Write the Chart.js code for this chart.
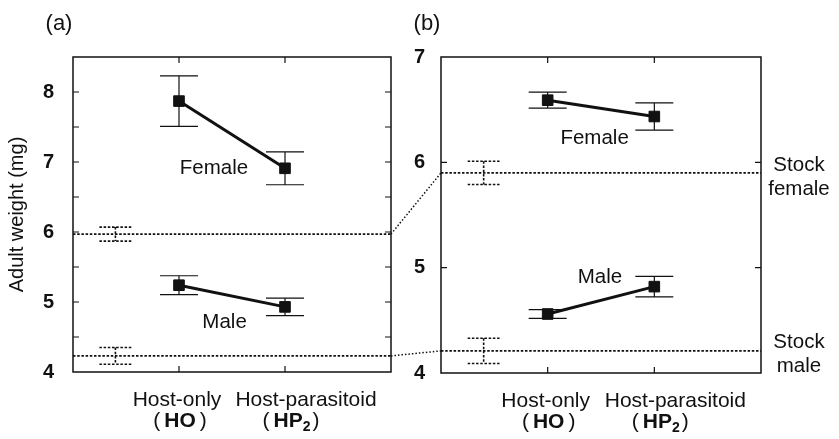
<!DOCTYPE html>
<html>
<head>
<meta charset="utf-8">
<script src="https://cdn.jsdelivr.net/npm/chart.js@4.4.1/dist/chart.umd.min.js"></script>
<style>
  body { margin: 0; background: #fff; }
  #wrap { position: relative; width: 839px; height: 439px; }
  canvas { position: absolute; top: 0; }
</style>
</head>
<body>
<div id="wrap">
  <canvas id="panel-a" width="405" height="439" style="left:0"></canvas>
  <canvas id="panel-b" width="434" height="439" style="left:405px"></canvas>
  <canvas id="links" width="839" height="439" style="left:0;pointer-events:none"></canvas>
</div>
<script>
const groupNames = ["Host-only", "Host-parasitoid"];
const groupCodes = ["HO", "HP"];
const groupX = [1, 2];
const stockX = 0.4;

// panel (a)
const femaleA = [7.87, 6.91];
const femaleAErr = [0.36, 0.235];
const maleA = [5.24, 4.93];
const maleAErr = [0.135, 0.125];
const stockA = [5.97, 4.23];      // stock female, stock male
const stockAErr = [0.10, 0.12];

// panel (b)
const femaleB = [6.59, 6.435];
const femaleBErr = [0.076, 0.13];
const maleB = [4.56, 4.82];
const maleBErr = [0.042, 0.097];
const stockB = [5.90, 4.21];
const stockBErr = [0.11, 0.12];

const INK = "#111";
Chart.defaults.font.family = '"Liberation Sans", Arial, sans-serif';
Chart.defaults.color = INK;

function drawParts(ctx, parts, cx, y) {
  let total = 0;
  parts.forEach(p => { ctx.font = p.font; p.w = ctx.measureText(p.t).width; total += p.w + (p.gap || 0); });
  let x = cx - total / 2;
  ctx.textAlign = "left";
  parts.forEach(p => {
    ctx.font = p.font;
    ctx.fillText(p.t, x, y + (p.dy || 0));
    x += p.w + (p.gap || 0);
  });
}

const panelPlugin = {
  id: "panelText",
  beforeDatasetsDraw(chart) {
    const { ctx, scales: { x, y } } = chart;
    ctx.save();
    ctx.strokeStyle = INK;
    chart.data.datasets.forEach(ds => {
      if (ds.errors) {
        ctx.lineWidth = 1.2;
        ctx.setLineDash([]);
        ds.data.forEach((p, i) => {
          const px = x.getPixelForValue(p.x);
          const t = y.getPixelForValue(p.y + ds.errors[i]);
          const b = y.getPixelForValue(p.y - ds.errors[i]);
          ctx.beginPath();
          ctx.moveTo(px, t); ctx.lineTo(px, b);
          ctx.moveTo(px - 19, t); ctx.lineTo(px + 19, t);
          ctx.moveTo(px - 19, b); ctx.lineTo(px + 19, b);
          ctx.stroke();
        });
      }
      if (ds.stockErr !== undefined) {
        const v = ds.data[0].y;
        const px = x.getPixelForValue(stockX);
        const t = y.getPixelForValue(v + ds.stockErr);
        const b = y.getPixelForValue(v - ds.stockErr);
        ctx.lineWidth = 1.6;
        ctx.setLineDash([2.5, 1.7]);
        ctx.beginPath();
        ctx.moveTo(px, t); ctx.lineTo(px, b);
        ctx.moveTo(px - 16, t); ctx.lineTo(px + 16, t);
        ctx.moveTo(px - 16, b); ctx.lineTo(px + 16, b);
        ctx.stroke();
      }
    });
    ctx.restore();
  },
  afterDraw(chart, args, opts) {
    const { ctx, chartArea: a, scales: { x, y } } = chart;
    ctx.save();
    ctx.strokeStyle = INK;
    ctx.fillStyle = INK;
    ctx.setLineDash([]);
    ctx.lineWidth = 1.5;
    ctx.strokeRect(a.left, a.top, a.right - a.left, a.bottom - a.top);
    ctx.lineWidth = 1.2;
    ctx.beginPath();
    y.ticks.forEach(t => {
      if (t.value <= y.min || t.value >= y.max) return;
      const py = y.getPixelForValue(t.value);
      ctx.moveTo(a.left, py); ctx.lineTo(a.left + 6, py);
      ctx.moveTo(a.right, py); ctx.lineTo(a.right - 6, py);
    });
    groupX.forEach(v => {
      const px = x.getPixelForValue(v);
      ctx.moveTo(px, a.bottom); ctx.lineTo(px, a.bottom - 6);
      ctx.moveTo(px, a.top); ctx.lineTo(px, a.top + 6);
    });
    ctx.stroke();

    ctx.textBaseline = "middle";
    ctx.textAlign = "center";
    ctx.font = "22px 'Liberation Sans', Arial, sans-serif";
    ctx.fillText(opts.tag, a.left - 14, a.top - 33);

    ctx.font = "20.5px 'Liberation Sans', Arial, sans-serif";
    opts.labels.forEach(l => {
      ctx.fillText(l.text, x.getPixelForValue(l.at[0]), y.getPixelForValue(l.at[1]));
    });
    if (opts.stockLabels) {
      const sx = a.right + 38;
      const yf = y.getPixelForValue(opts.stock[0]);
      const ym = y.getPixelForValue(opts.stock[1]);
      ctx.fillText("Stock", sx, yf - 8);
      ctx.fillText("female", sx, yf + 16);
      ctx.fillText("Stock", sx, ym - 9);
      ctx.fillText("male", sx, ym + 15);
    }

    const reg = "21px 'Liberation Sans', Arial, sans-serif";
    const bold = "bold 21px 'Liberation Sans', Arial, sans-serif";
    const sub = "bold 14px 'Liberation Sans', Arial, sans-serif";
    ctx.font = reg;
    ctx.fillText(groupNames[0], x.getPixelForValue(groupX[0]) - 2, a.bottom + 28);
    ctx.fillText(groupNames[1], x.getPixelForValue(groupX[1]) + 21, a.bottom + 28);
    drawParts(ctx, [
      { t: "(", font: reg, gap: 4 }, { t: groupCodes[0], font: bold, gap: 4 }, { t: ")", font: reg }
    ], x.getPixelForValue(groupX[0]) + 1, a.bottom + 49);
    drawParts(ctx, [
      { t: "(", font: reg, gap: 4 }, { t: groupCodes[1], font: bold }, { t: "2", font: sub, dy: 6, gap: 2 }, { t: ")", font: reg }
    ], x.getPixelForValue(groupX[1]) + 6, a.bottom + 49);
    ctx.restore();
  }
};

function makePanel(id, p) {
  const line = (vals, errs) => ({
    data: groupX.map((gx, i) => ({ x: gx, y: vals[i] })),
    errors: errs,
    showLine: true,
    borderColor: INK,
    borderWidth: 3,
    pointStyle: "rect",
    pointRadius: 7.5,
    pointBackgroundColor: INK,
    pointBorderColor: INK,
    pointBorderWidth: 1
  });
  const stock = (v, e) => ({
    data: [{ x: 0, y: v }, { x: 3, y: v }],
    stockErr: e,
    showLine: true,
    borderColor: INK,
    borderWidth: 1.8,
    borderDash: [2.5, 1.7],
    pointRadius: 0
  });
  return new Chart(id, {
    type: "scatter",
    data: {
      datasets: [
        stock(p.stock[0], p.stockErr[0]),
        stock(p.stock[1], p.stockErr[1]),
        line(p.female, p.femaleErr),
        line(p.male, p.maleErr)
      ]
    },
    options: {
      responsive: false,
      animation: false,
      devicePixelRatio: 1,
      layout: { padding: { left: 0, top: 57, right: p.padRight, bottom: 0 } },
      plugins: {
        legend: { display: false },
        tooltip: { enabled: false },
        panelText: { tag: p.tag, labels: p.labels, stockLabels: p.stockLabels, stock: p.stock }
      },
      scales: {
        x: {
          type: "linear", min: 0, max: 3,
          ticks: { display: false, stepSize: 1 },
          grid: { display: false },
          border: { display: false },
          afterFit: s => { s.height = p.bottomH; }
        },
        y: {
          min: p.yMin, max: p.yMax,
          ticks: {
            stepSize: p.step,
            padding: p.tickPad,
            font: { size: 20, weight: "bold" },
            color: INK,
            callback: v => Number.isInteger(v) ? String(v) : ""
          },
          grid: { display: false },
          border: { display: false },
          title: {
            display: !!p.yTitle,
            text: p.yTitle || "",
            font: { size: 20 },
            color: INK,
            padding: { top: 5, bottom: 0 }
          },
          afterFit: s => { s.width = p.leftW; }
        }
      }
    },
    plugins: [panelPlugin]
  });
}

const chartA = makePanel("panel-a", {
  tag: "(a)", yTitle: "Adult weight (mg)",
  female: femaleA, femaleErr: femaleAErr, male: maleA, maleErr: maleAErr,
  stock: stockA, stockErr: stockAErr,
  yMin: 4, yMax: 8.5, step: 0.5, tickPad: 11,
  leftW: 73, padRight: 14, bottomH: 67,
  labels: [{ text: "Female", at: [1.33, 6.91] }, { text: "Male", at: [1.43, 4.71] }],
  stockLabels: false
});

const chartB = makePanel("panel-b", {
  tag: "(b)", yTitle: "",
  female: femaleB, femaleErr: femaleBErr, male: maleB, maleErr: maleBErr,
  stock: stockB, stockErr: stockBErr,
  yMin: 4, yMax: 7, step: 1, tickPad: 8,
  leftW: 36, padRight: 78, bottomH: 66,
  labels: [{ text: "Female", at: [1.44, 6.23] }, { text: "Male", at: [1.49, 4.91] }],
  stockLabels: true
});

// dotted links from the stock lines of (a) to those of (b)
const links = document.getElementById("links").getContext("2d");
const offsetB = 405;
links.strokeStyle = INK;
links.lineWidth = 1.5;
links.setLineDash([1.5, 2]);
[0, 1].forEach(k => {
  links.beginPath();
  links.moveTo(chartA.chartArea.right, chartA.scales.y.getPixelForValue(stockA[k]));
  links.lineTo(offsetB + chartB.chartArea.left, chartB.scales.y.getPixelForValue(stockB[k]));
  links.stroke();
});
</script>
</body>
</html>
